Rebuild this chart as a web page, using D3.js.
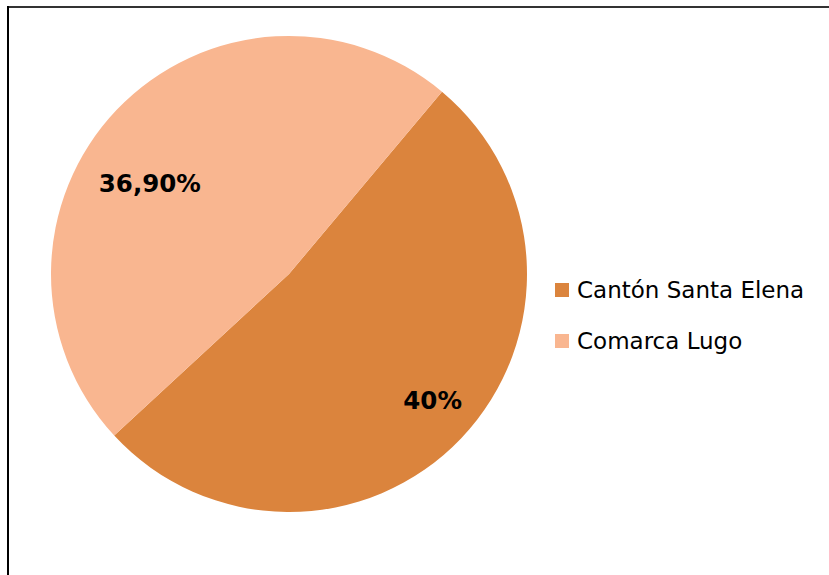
<!DOCTYPE html>
<html><head><meta charset="utf-8">
<script src="https://cdn.jsdelivr.net/npm/d3@7"></script>
<style>body{margin:0;background:#fff}svg{display:block}</style>
</head><body>
<script>
const categories = ["Cantón Santa Elena", "Comarca Lugo"];
const values = [40, 36.9];
const labels = ["40%", "36,90%"];
const colors = ["#DB843D", "#F9B690"];

const W = 829, H = 575;
const svg = d3.select("body").append("svg").attr("width", W).attr("height", H);

// frame
svg.append("line").attr("x1", 8).attr("x2", W).attr("y1", 7).attr("y2", 7).attr("stroke", "#333").attr("stroke-width", 2);
svg.append("line").attr("x1", 8).attr("x2", 8).attr("y1", 6).attr("y2", H).attr("stroke", "#000").attr("stroke-width", 2);

const cx = 289, cy = 274, r = 238;
const start = 40 * Math.PI / 180;
const pie = d3.pie().sort(null).value(d => d).startAngle(start).endAngle(start + 2 * Math.PI);
const arcs = pie(values);
const arc = d3.arc().innerRadius(0).outerRadius(r);
const g = svg.append("g").attr("transform", `translate(${cx},${cy})`);
g.selectAll("path").data(arcs).enter().append("path")
  .attr("d", arc).attr("fill", (d, i) => colors[i]);

// label placement (radius, angular nudge in degrees)
const labelR = [191, 166];
const labelNudge = [-2.4, -10.6];
g.selectAll("text").data(arcs).enter().append("text")
  .attr("transform", (d, i) => {
    const a = (d.startAngle + d.endAngle) / 2 + labelNudge[i] * Math.PI / 180;
    return `translate(${labelR[i] * Math.sin(a)},${-labelR[i] * Math.cos(a)})`;
  })
  .attr("text-anchor", "middle").attr("dy", "0.36em")
  .attr("font-family", "DejaVu Sans, sans-serif").attr("font-weight", "bold")
  .attr("font-size", 24.5).attr("fill", "#000")
  .text((d, i) => labels[i]);

const leg = svg.append("g").attr("transform", "translate(555,283)");
categories.forEach((c, i) => {
  const row = leg.append("g").attr("transform", `translate(0,${i * 51})`);
  row.append("rect").attr("width", 14).attr("height", 14).attr("fill", colors[i]);
  row.append("text").attr("x", 22).attr("y", 15).attr("font-family", "DejaVu Sans, sans-serif")
    .attr("font-size", 23).attr("fill", "#000").text(c);
});
</script>
</body></html>
